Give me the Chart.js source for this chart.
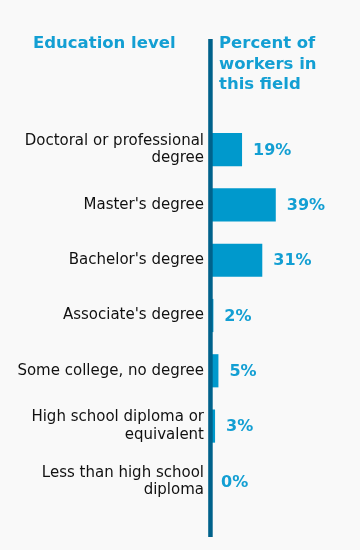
<!DOCTYPE html>
<html>
<head>
<meta charset="utf-8">
<script src="https://cdn.jsdelivr.net/npm/chart.js@4"></script>
<style>
  html, body { margin: 0; padding: 0; background: #f9f9f9; }
  #wrap { width: 360px; height: 550px; position: relative; }
</style>
</head>
<body>
<div id="wrap"><canvas id="myChart"></canvas></div>
<script>
const levels = [
  ["Doctoral or professional", "degree"],
  "Master's degree",
  "Bachelor's degree",
  "Associate's degree",
  "Some college, no degree",
  ["High school diploma or", "equivalent"],
  ["Less than high school", "diploma"],
];
const percents = [19, 39, 31, 2, 5, 3, 0];
const leftHeader = "Education level";
const rightHeader = ["Percent of", "workers in", "this field"];

const FONT = "Verdana, 'DejaVu Sans', sans-serif";
const BLUE = "#0099cc";
const LABEL_BLUE = "#139fd3";
const AXIS_BLUE = "#00628b";

const extras = {
  id: "extras",
  beforeDraw: (chart) => {
    const { ctx } = chart;
    ctx.save();
    ctx.fillStyle = "#f9f9f9";
    ctx.fillRect(0, 0, chart.width, chart.height);
    ctx.restore();
  },
  afterDatasetsDraw: (chart) => {
    const { ctx } = chart;
    const xs = chart.scales.x;
    const x0 = xs.getPixelForValue(0);
    ctx.save();
    // vertical axis line
    ctx.fillStyle = AXIS_BLUE;
    ctx.fillRect(x0 - 1.8, 39, 4.5, 498);

    // headers
    ctx.fillStyle = LABEL_BLUE;
    ctx.font = "bold 16.5px " + FONT;
    ctx.textBaseline = "alphabetic";
    ctx.textAlign = "left";
    ctx.fillText(leftHeader, 33, 48);
    rightHeader.forEach((t, i) => ctx.fillText(t, 219, 48 + i * 20.5));

    // value labels
    const meta = chart.getDatasetMeta(0);
    ctx.font = "bold 16px " + FONT;
    ctx.textBaseline = "middle";
    meta.data.forEach((bar, i) => {
      ctx.fillText(percents[i] + "%", bar.x + 11, bar.y + 1);
    });
    ctx.restore();
  },
};

new Chart(document.getElementById("myChart"), {
  type: "bar",
  data: {
    labels: levels,
    datasets: [
      {
        data: percents,
        backgroundColor: BLUE,
        borderWidth: 0,
        barPercentage: 0.6,
        categoryPercentage: 1,
      },
    ],
  },
  options: {
    indexAxis: "y",
    responsive: true,
    maintainAspectRatio: false,
    animation: false,
    layout: { padding: { top: 122, bottom: 41, right: 10, left: 0 } },
    plugins: {
      legend: { display: false },
      tooltip: { enabled: false },
    },
    scales: {
      x: {
        display: false,
        min: 0,
        max: 83,
      },
      y: {
        afterFit: (scale) => { scale.width = 210; },
        grid: { display: false, drawTicks: false },
        border: { display: false },
        ticks: {
          color: "#111",
          padding: 6,
          font: { family: FONT, size: 15, lineHeight: 1.15 },
        },
      },
    },
  },
  plugins: [extras],
});
</script>
</body>
</html>
